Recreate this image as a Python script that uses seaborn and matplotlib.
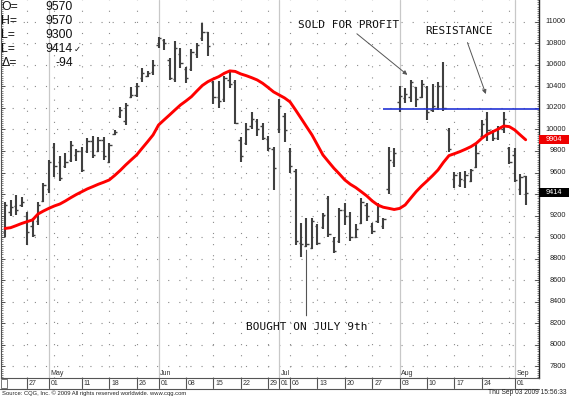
import numpy as np
import pandas as pd
import matplotlib
matplotlib.use('Agg')
import matplotlib.pyplot as plt
import matplotlib.transforms as mtransforms
from matplotlib.patches import Rectangle
from matplotlib.lines import Line2D
from matplotlib.ticker import MultipleLocator
import seaborn as sns

# daily bars, index 0 = Tue Apr 21 2009 (trading days only)
opens = [9050, 9230, 9290, 9300, 9200, 9100, 9150, 9340, 9450, 9840,
         9700, 9660, 9720, 9760, 9800, 9800, 9890, 9800, 9900, 9700,
         9960, 10120, 10080, 10300, 10320, 10480, 10500, 10530, 10780, 10830,
         10640, 10470, 10700, 10560, 10560, 10700, 10850, 10900, 10440, 10300,
         10280, 10460, 10440, 9900, 9870, 10030, 10080, 10030, 9910, 9820,
         10000, 10120, 9800, 9610, 8950, 8920, 8900, 9100, 9090, 9360,
         8960, 8960, 9250, 9200, 9000, 9130, 9300, 9100, 9150, 9100,
         9450, 9700, 10250, 10290, 10300, 10390, 10300, 10390, 10180, 10200,
         10400, 9990, 9540, 9480, 9530, 9520, 9650, 9940, 10100, 9980,
         9920, 10000, 9830, 9760, 9450, 9570]
highs = [9327, 9345, 9392, 9376, 9234, 9178, 9327, 9503, 9717, 9874,
         9754, 9781, 9893, 9819, 9837, 9921, 9939, 9930, 9930, 9874,
         9995, 10208, 10245, 10397, 10428, 10568, 10542, 10645, 10861, 10840,
         10666, 10821, 10753, 10582, 10747, 10800, 10985, 10902, 10450, 10450,
         10499, 10530, 10459, 9933, 10057, 10159, 10097, 10057, 9935, 9834,
         10280, 10156, 9825, 9630, 9135, 9178, 9175, 9123, 9228, 9383,
         9000, 9269, 9321, 9237, 9123, 9361, 9321, 9135, 9315, 9176,
         9840, 9825, 10406, 10382, 10459, 10397, 10459, 10406, 10419, 10438,
         10629, 10016, 9603, 9608, 9615, 9633, 9871, 10088, 10159, 9996,
         10035, 10165, 9840, 9831, 9584, 9570]
lows = [9002, 9197, 9206, 9283, 8928, 9002, 9113, 9327, 9410, 9559,
        9522, 9642, 9698, 9707, 9605, 9781, 9735, 9791, 9717, 9689,
        9949, 10106, 10041, 10289, 10304, 10443, 10490, 10505, 10753, 10737,
        10459, 10438, 10568, 10428, 10543, 10666, 10821, 10684, 10233, 10202,
        10258, 10387, 10048, 9701, 9856, 10004, 9942, 9902, 9800, 9438,
        9970, 9886, 9599, 8928, 8819, 8909, 8888, 8928, 9074, 9006,
        8851, 8944, 9113, 8968, 8990, 9123, 9153, 9030, 9135, 9073,
        9401, 9649, 10165, 10243, 10258, 10211, 10289, 10088, 10165, 10181,
        10171, 9788, 9454, 9469, 9460, 9510, 9640, 9924, 9893, 9893,
        9902, 9964, 9677, 9510, 9393, 9300]
closes = [9300, 9280, 9250, 9330, 9050, 9020, 9300, 9480, 9700, 9660,
          9550, 9700, 9860, 9800, 9620, 9890, 9760, 9900, 9750, 9860,
          9980, 10180, 10230, 10320, 10400, 10520, 10520, 10600, 10850, 10800,
          10480, 10760, 10620, 10480, 10720, 10780, 10900, 10770, 10300, 10260,
          10480, 10420, 10060, 9750, 10000, 10100, 10000, 9920, 9830, 9640,
          10220, 9990, 9660, 8960, 8940, 8940, 9150, 8950, 9210, 9030,
          8870, 9250, 9200, 9000, 9080, 9330, 9200, 9060, 9290, 9165,
          9720, 9780, 10313, 10330, 10440, 10280, 10420, 10160, 10220, 10400,
          10200, 9820, 9580, 9540, 9580, 9620, 9780, 10050, 9990, 9920,
          10010, 10100, 9700, 9530, 9560, 9414]
moving_avg = [9081, 9088, 9107, 9127, 9144, 9160, 9215, 9243, 9268, 9290,
              9308, 9336, 9367, 9396, 9422, 9448, 9469, 9491, 9510, 9531,
              9573, 9619, 9670, 9717, 9763, 9825, 9886, 9949, 10041, 10088,
              10134, 10181, 10227, 10264, 10304, 10357, 10408, 10443, 10468, 10490,
              10521, 10543, 10538, 10515, 10499, 10480, 10459, 10428, 10389, 10348,
              10320, 10292, 10255, 10181, 10104, 10026, 9949, 9856, 9763, 9701,
              9640, 9587, 9531, 9491, 9460, 9422, 9383, 9336, 9299, 9278,
              9268, 9257, 9267, 9299, 9361, 9422, 9475, 9522, 9571, 9624,
              9695, 9757, 9775, 9794, 9816, 9840, 9872, 9918, 9955, 9979,
              10004, 10032, 10026, 9995, 9949, 9904]

tick_idx = [4, 8, 14, 19, 24, 28, 33, 38, 43, 48, 50, 52, 57, 62, 67, 72, 77, 82, 87, 93]
tick_labels = ['27', '01', '11', '18', '26', '01', '08', '15', '22', '29',
               '01', '06', '13', '20', '27', '03', '10', '17', '24', '01']
month_idx = [8, 28, 50, 72, 93]
month_labels = ['May', 'Jun', 'Jul', 'Aug', 'Sep']
week_idx = [4, 9, 14, 19, 24, 33, 38, 43, 48, 52, 57, 62, 67, 77, 82, 87, 92]
price_ticks = list(range(7800, 11001, 200))

resistance = 10190
resistance_from = 69
last_ma = 9904
last_price = 9414
quote_names = ['O=', 'H=', 'L=', 'L=', '\u0394=']
quote_values = ['9570', '9570', '9300', '9414', '-94']

sns.set_style('white')
plt.rcParams['font.family'] = ['Liberation Sans', 'DejaVu Sans']

W, H = 569, 396
bottom_px = 377.7
fig = plt.figure(figsize=(W / 100, H / 100), dpi=100)
ax = fig.add_axes([1 / W, 1 - bottom_px / H, 538 / W, bottom_px / H])
ax.set_xlim(-0.75, 97.43)
ax.set_ylim(7696, 11201)

days = np.arange(len(opens))
df = pd.DataFrame({'day': days, 'open': opens, 'high': highs, 'low': lows,
                   'close': closes, 'ma': moving_avg})

# grid: dotted price rows and week columns, light solid month columns
grid_ls = (0, (1, 9))
for v in price_ticks:
    ax.axhline(v, color='#8a8a8a', lw=0.8, ls=grid_ls, zorder=0)
for i in week_idx:
    ax.axvline(i, color='#8a8a8a', lw=0.8, ls=grid_ls, zorder=0)
for i in month_idx:
    ax.axvline(i, color='#c8c8c8', lw=0.9, zorder=0)

# OHLC bars
bar_col = '#404040'
ax.vlines(df['day'], df['low'], df['high'], color=bar_col, lw=1.5, zorder=2)
ax.hlines(df['open'], df['day'] - 0.42, df['day'], color=bar_col, lw=1.0, zorder=2)
ax.hlines(df['close'], df['day'], df['day'] + 0.42, color=bar_col, lw=1.0, zorder=2)

sns.lineplot(data=df, x='day', y='ma', ax=ax, color='#ff0000', linewidth=2.1, zorder=3)
ax.hlines(resistance, resistance_from, 97.43, color='#2233d6', lw=1.2, zorder=3)

# annotations
mono = 'DejaVu Sans Mono'
ax.text(62.6, 10970, 'SOLD FOR PROFIT', family=mono, fontsize=8, ha='center', va='center', color='#111111')
ax.text(82.8, 10914, 'RESISTANCE', family=mono, fontsize=8, ha='center', va='center', color='#111111')
ax.text(55, 8167, 'BOUGHT ON JULY 9th', family=mono, fontsize=8, ha='center', va='center', color='#111111')
arrow = dict(arrowstyle='-|>', color='#555555', lw=0.7, mutation_scale=6)
ax.annotate('', xy=(73.8, 10490), xytext=(63.8, 10904), arrowprops=arrow)
ax.annotate('', xy=(87.9, 10304), xytext=(84.2, 10830), arrowprops=arrow)
ax.annotate('', xy=(55, 8905), xytext=(55, 8245), arrowprops=dict(arrowstyle='-', color='#555555', lw=0.8))

# axes frame
ax.set_xticks([])
ax.set_yticks(price_ticks)
ax.yaxis.set_minor_locator(MultipleLocator(20))
ax.yaxis.set_ticks_position('both')
ax.tick_params(axis='y', which='major', direction='in', length=3, width=0.6, color='#333333',
               labelleft=False, labelright=False)
ax.tick_params(axis='y', which='minor', direction='in', length=1.5, width=0.5, color='#555555')
ax.set_xlabel('')
ax.set_ylabel('')
ax.spines['top'].set_visible(False)
ax.spines['right'].set_color('#222222')
ax.spines['right'].set_linewidth(1.0)
ax.spines['left'].set_color('#555555')
ax.spines['left'].set_linewidth(0.8)
ax.spines['bottom'].set_color('#555555')
ax.spines['bottom'].set_linewidth(0.8)

# right price scale; the boxed last values cover the labels next to them
ytrans = mtransforms.blended_transform_factory(fig.transFigure, ax.transData)
for v in price_ticks:
    if min(abs(v - last_ma), abs(v - last_price)) < 70:
        continue
    ax.text(566 / W, v, f'{v}', transform=ytrans, ha='right', va='center',
            fontsize=5.3, color='#222222', clip_on=False)
for val, face in [(last_ma, '#ee0000'), (last_price, '#000000')]:
    ax.add_patch(Rectangle((539 / W, val - 42), 30 / W, 84, transform=ytrans,
                           facecolor=face, edgecolor='none', clip_on=False, zorder=5))
    ax.text(554 / W, val, f'{val}', transform=ytrans, ha='center', va='center',
            fontsize=5.3, color='white', clip_on=False, zorder=6)

# date strip
xtrans = mtransforms.blended_transform_factory(ax.transData, ax.transAxes)
y_tick_bot = -(388 - bottom_px) / bottom_px
y_day = -(383.5 - bottom_px) / bottom_px
for i, lab in zip(tick_idx, tick_labels):
    ax.add_line(Line2D([i, i], [0, y_tick_bot], transform=xtrans,
                       color='#555555', lw=0.8, clip_on=False))
    ax.text(i + 0.35, y_day, lab, transform=xtrans, ha='left', va='center',
            fontsize=5, color='#333333', clip_on=False)
for i, lab in zip(month_idx, month_labels):
    ax.text(i + 0.3, (bottom_px - 373.3) / bottom_px, lab, transform=xtrans, ha='left',
            va='center', fontsize=5, color='#333333')
fig.add_artist(Line2D([0, 539 / W], [1 - 389 / H, 1 - 389 / H], transform=fig.transFigure,
                      color='#555555', lw=0.8))
fig.add_artist(Rectangle((1 / W, 1 - 388 / H), 6 / W, 9 / H, transform=fig.transFigure,
                         facecolor='white', edgecolor='#777777', lw=0.7))

# quote block, top left
for k, (name, val) in enumerate(zip(quote_names, quote_values)):
    y = 1 - (7.5 + 14 * k) / H
    fig.text(1.5 / W, y, name, ha='left', va='center', fontsize=8.8, color='#111111')
    fig.text(72.7 / W, y, val, ha='right', va='center', fontsize=8.8, color='#111111')
fig.text(74 / W, 1 - (7.5 + 14 * 3) / H, '\u2713', ha='left', va='center', fontsize=6,
         color='#111111', family=['DejaVu Sans'])

# footer
fig.text(2 / W, 1 - 393 / H, 'Source: CQG, Inc. \u00a9 2009 All rights reserved worldwide. www.cqg.com',
         ha='left', va='center', fontsize=4.2, color='#222222')
fig.text(567 / W, 1 - 393 / H, 'Thu Sep 03 2009 15:56:33', ha='right', va='center',
         fontsize=4.8, color='#222222')

fig.savefig('out.png', dpi=100)
